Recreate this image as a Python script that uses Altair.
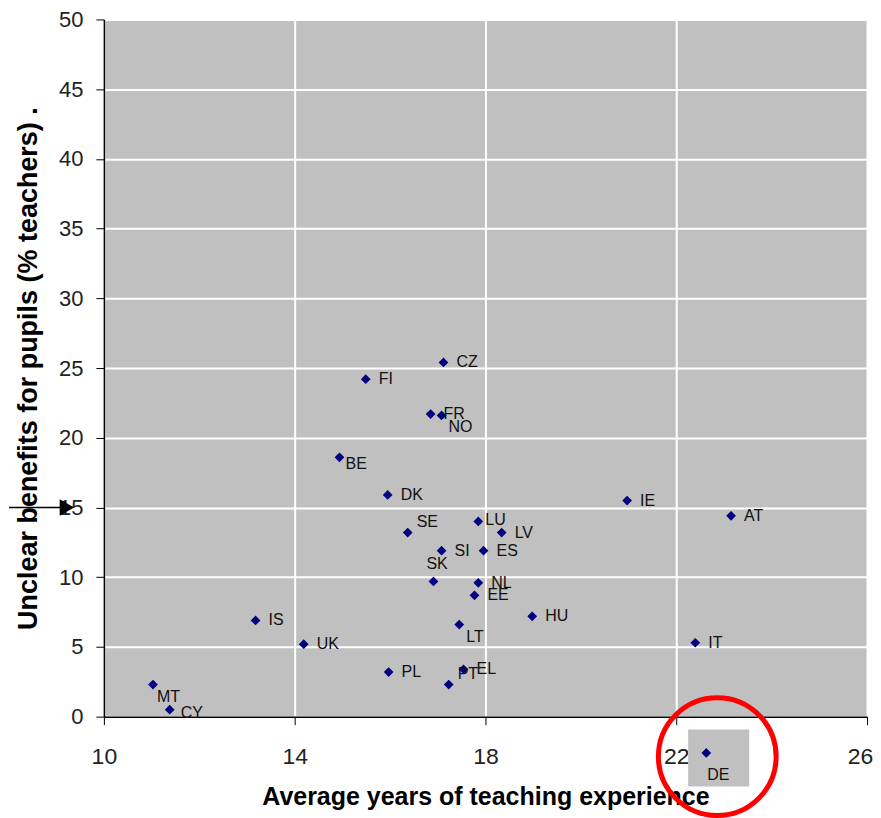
import altair as alt
import pandas as pd

# ---- data ----
countries = ["CZ", "FI", "FR", "NO", "BE", "DK", "IE", "AT", "LU", "SE", "LV", "SI", "ES",
             "SK", "NL", "EE", "HU", "IS", "LT", "UK", "IT", "PL", "EL", "PT", "MT", "CY", "DE"]
years = [17.12, 15.49, 16.85, 17.08, 14.94, 15.95, 20.97, 23.15, 17.85, 16.37, 18.34, 17.08, 17.96,
         16.91, 17.85, 17.77, 18.98, 13.18, 17.45, 14.19, 22.40, 15.97, 17.54, 17.23, 11.03, 11.38, 22.63]
unclear = [25.4, 24.2, 21.7, 21.6, 18.6, 15.9, 15.5, 14.4, 14.0, 13.2, 13.2, 11.9, 11.9,
           9.7, 9.6, 8.7, 7.2, 6.9, 6.6, 5.2, 5.3, 3.2, 3.4, 2.3, 2.3, 0.5, -2.6]
label_place = ["right", "right", "right", "below_right", "low_right", "right", "right", "right", "near",
               "above_right", "right", "right", "right", "above", "right", "right", "right", "right",
               "below_right", "right", "right", "right", "right", "above_right", "below", "right_low", "under"]

x_ticks = [10, 14, 18, 22, 26]
y_ticks = [0, 5, 10, 15, 20, 25, 30, 35, 40, 45, 50]

# label offsets (pixels) per placement style
placements = {
    "right": (13, 0),
    "near": (7, -1),
    "below_right": (7, 12),
    "low_right": (6, 7),
    "above_right": (9, -11),
    "above": (-7, -17),
    "below": (4, 12),
    "right_low": (11, 3),
    "under": (1, 22),
}

df = pd.DataFrame({"country": countries, "years": years, "unclear": unclear, "place": label_place})

FONT = "Liberation Sans"
x_scale = alt.Scale(domain=[10, 26], nice=False, zero=False)
y_scale = alt.Scale(domain=[0, 50], nice=False)

xenc = alt.X("years:Q", scale=x_scale,
             axis=alt.Axis(values=x_ticks, title="Average years of teaching experience",
                           grid=True, gridColor="white", gridWidth=2, labelFlush=False,
                           labelOffset={"condition": {"test": "datum.value == 26", "value": -7}, "value": 0},
                           domainColor="black", domainWidth=1.5, tickColor="black", tickSize=8,
                           labelFontSize=23, labelPadding=21, labelColor="#222", labelFont=FONT,
                           titleFontSize=25, titleFont=FONT, titleFontWeight="bold",
                           titlePadding=16, titleColor="black"))
yenc = alt.Y("unclear:Q", scale=y_scale,
             axis=alt.Axis(values=y_ticks, title="Unclear benefits for pupils (% teachers)  .",
                           grid=True, gridColor="white", gridWidth=2, labelFlush=False,
                           domainColor="black", domainWidth=1.5, tickColor="black", tickSize=8,
                           labelFontSize=22, labelPadding=13, labelColor="#222", labelFont=FONT,
                           titleFontSize=27, titleFont=FONT, titleFontWeight="bold",
                           titlePadding=16, titleColor="black"))

# annotation: grey box and red circle around DE, arrow at y = 15
box_df = pd.DataFrame({"x1": [22.25], "x2": [23.53], "y1": [-0.93], "y2": [-5.01]})
circle_df = pd.DataFrame({"cx": [22.86], "cy": [-2.86]})
arrow_df = pd.DataFrame({"ay": [15]})

box = alt.Chart(box_df).mark_rect(color="#c0c0c0").encode(
    x=alt.X("x1:Q", scale=x_scale), x2="x2:Q",
    y=alt.Y("y1:Q", scale=y_scale), y2="y2:Q")

points = alt.Chart(df).mark_point(shape="diamond", filled=True, color="#000080", size=95, opacity=1).encode(
    x=xenc, y=yenc)

text_layers = []
for name, (dx, dy) in placements.items():
    text_layers.append(
        alt.Chart(df).transform_filter(alt.datum.place == name).mark_text(
            align="left", baseline="middle", dx=dx, dy=dy, fontSize=16, font=FONT, color="#111"
        ).encode(x=alt.X("years:Q", scale=x_scale), y=alt.Y("unclear:Q", scale=y_scale), text="country:N")
    )

circle = alt.Chart(circle_df).mark_point(shape="circle", filled=False, color="#ff0000",
                                         strokeWidth=5, size=13900, opacity=1).encode(
    x=alt.X("cx:Q", scale=x_scale), y=alt.Y("cy:Q", scale=y_scale))

arrow_line = alt.Chart(arrow_df).mark_rule(color="black", strokeWidth=1.5).encode(
    x=alt.value(-95), x2=alt.value(-42), y=alt.Y("ay:Q", scale=y_scale))
arrow_head = alt.Chart(arrow_df).mark_point(shape="triangle-right", filled=True, color="black",
                                            size=280, opacity=1).encode(
    x=alt.value(-37), y=alt.Y("ay:Q", scale=y_scale))

chart = alt.layer(box, points, *text_layers, circle, arrow_line, arrow_head).properties(
    width=764, height=698,
    padding={"left": 0, "top": 0, "right": 0, "bottom": 0},
).configure(background="white").configure_view(fill="#c0c0c0", strokeWidth=0)

chart.save("out.html", embed_options={"renderer": "svg", "actions": False})
